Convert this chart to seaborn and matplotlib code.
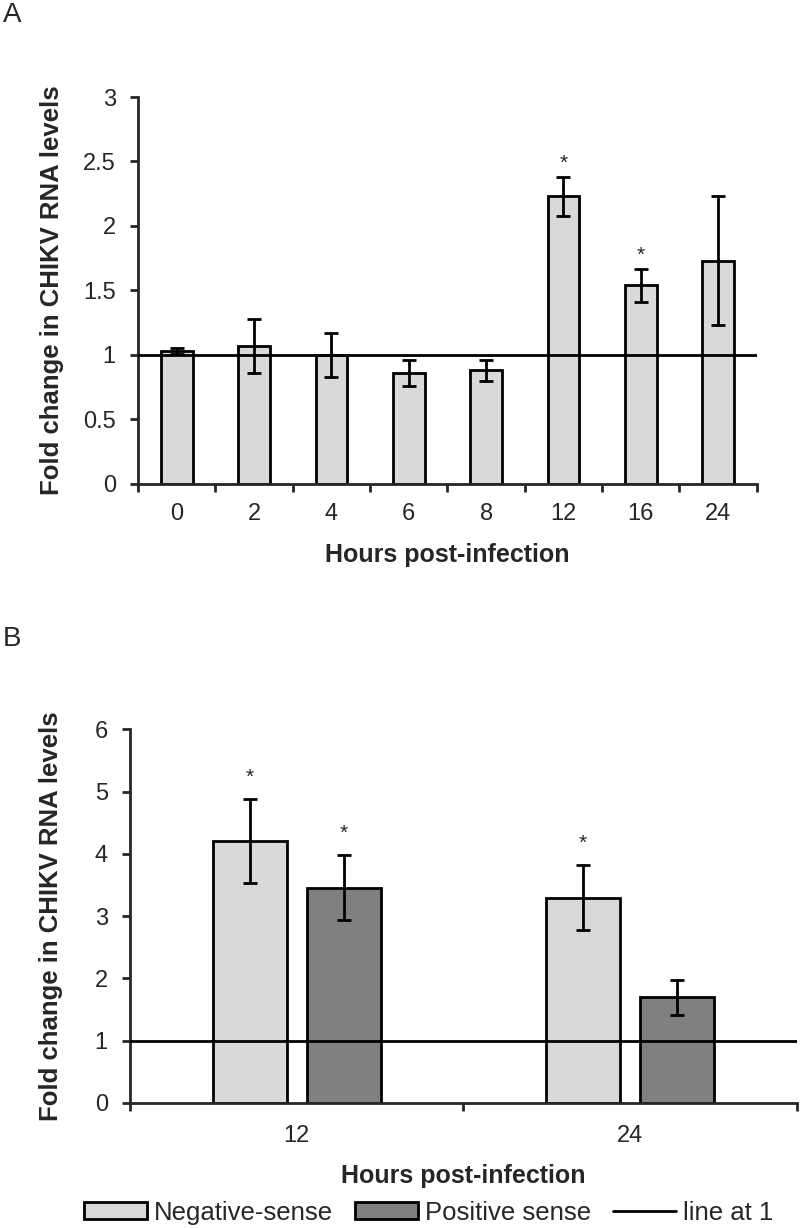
import matplotlib
matplotlib.use("Agg")
import matplotlib.pyplot as plt
import seaborn as sns
import pandas as pd
import numpy as np
from matplotlib.patches import Patch
from matplotlib.lines import Line2D

# ---- data ----
hours_a = ["0", "2", "4", "6", "8", "12", "16", "24"]
fold_a = [1.03, 1.07, 1.00, 0.86, 0.88, 2.23, 1.54, 1.73]
err_a = [0.02, 0.21, 0.17, 0.10, 0.08, 0.15, 0.13, 0.50]
sig_a = [False, False, False, False, False, True, True, False]

hours_b = ["12", "24"]
series_b = ["Negative-sense", "Positive sense"]
fold_neg = [4.21, 3.30]
fold_pos = [3.46, 1.70]
err_neg = [0.67, 0.52]
err_pos = [0.52, 0.28]
sig_neg = [True, True]
sig_pos = [True, False]

light = "#d9d9d9"
dark = "#808080"

sns.set_style("ticks")
plt.rcParams["font.family"] = ["Liberation Sans", "DejaVu Sans"]

fig = plt.figure(figsize=(8, 12.28), dpi=100)
axA = fig.add_axes([0.1725, 0.606, 0.7735, 0.315])
axB = fig.add_axes([0.1625, 0.1018, 0.8335, 0.3042])

LW = 2.0
TICKFS = 17

def style_axis(ax, ymax, step, xpad):
    for s in ["top", "right"]:
        ax.spines[s].set_visible(False)
    ax.spines["left"].set_linewidth(LW)
    ax.spines["bottom"].set_linewidth(LW)
    ax.set_ylim(0, ymax)
    yt = np.arange(0, ymax + 1e-9, step)
    ax.set_yticks(yt)
    ax.set_yticklabels([f"{v:g}" for v in yt])
    ax.tick_params(axis="y", direction="out", length=6, width=LW, labelsize=TICKFS, pad=10)
    ax.tick_params(axis="x", which="major", length=0, labelsize=TICKFS, pad=xpad)
    ax.tick_params(axis="x", which="minor", direction="out", length=5.5, width=LW)

# ---- Panel A ----
dfA = pd.DataFrame({"hours": hours_a, "fold": fold_a})
sns.barplot(data=dfA, x="hours", y="fold", order=hours_a, color=light,
            width=0.41, edgecolor="black", linewidth=LW, errorbar=None,
            saturation=1, ax=axA)
xs = [p.get_x() + p.get_width() / 2 for p in axA.patches]
axA.errorbar(xs, fold_a, yerr=err_a, fmt="none", ecolor="black",
             elinewidth=LW, capsize=4.7, capthick=LW, zorder=5)
for x, v, e, s in zip(xs, fold_a, err_a, sig_a):
    if s:
        axA.annotate("*", (x, v + e), xytext=(0, 3), textcoords="offset points",
                     ha="center", va="bottom", fontsize=15)
axA.axhline(1, color="black", lw=LW, zorder=6)
axA.set_xlim(-0.5, len(hours_a) - 0.5)
style_axis(axA, 3, 0.5, xpad=14)
axA.set_xticks(np.arange(-0.5, len(hours_a), 1.0), minor=True)
axA.set_ylabel("Fold change in CHIKV RNA levels", fontsize=18.5, fontweight="bold", labelpad=14)
axA.set_xlabel("Hours post-infection", fontsize=18, fontweight="bold", labelpad=13)

# ---- Panel B ----
dfB = pd.DataFrame({
    "hours": hours_b * 2,
    "series": [series_b[0]] * 2 + [series_b[1]] * 2,
    "fold": fold_neg + fold_pos,
})
sns.barplot(data=dfB, x="hours", y="fold", hue="series", order=hours_b,
            hue_order=series_b, palette=[light, dark], width=0.564, gap=0.21,
            edgecolor="black", linewidth=LW, errorbar=None, saturation=1,
            legend=False, ax=axB)
patches = sorted(axB.patches, key=lambda p: p.get_x())
xb = [p.get_x() + p.get_width() / 2 for p in patches]
# order by x: neg12, pos12, neg24, pos24
vals_b = [fold_neg[0], fold_pos[0], fold_neg[1], fold_pos[1]]
errs_b = [err_neg[0], err_pos[0], err_neg[1], err_pos[1]]
sigs_b = [sig_neg[0], sig_pos[0], sig_neg[1], sig_pos[1]]
axB.errorbar(xb, vals_b, yerr=errs_b, fmt="none", ecolor="black",
             elinewidth=LW, capsize=5, capthick=LW, zorder=5)
for x, v, e, s in zip(xb, vals_b, errs_b, sigs_b):
    if s:
        axB.annotate("*", (x, v + e), xytext=(0, 9), textcoords="offset points",
                     ha="center", va="bottom", fontsize=15)
axB.axhline(1, color="black", lw=LW, zorder=6)
axB.set_xlim(-0.5, len(hours_b) - 0.5)
style_axis(axB, 6, 1, xpad=16)
axB.set_xticks(np.arange(-0.5, len(hours_b), 1.0), minor=True)
axB.set_ylabel("Fold change in CHIKV RNA levels", fontsize=18.5, fontweight="bold", labelpad=23)
axB.set_xlabel("Hours post-infection", fontsize=18, fontweight="bold", labelpad=12)

handles = [Patch(facecolor=light, edgecolor="black", linewidth=LW, label=series_b[0]),
           Patch(facecolor=dark, edgecolor="black", linewidth=LW, label=series_b[1]),
           Line2D([0], [0], color="black", lw=LW, label="line at 1")]
fig.legend(handles=handles, loc="center", bbox_to_anchor=(0.5356, 0.0125), ncol=3,
           frameon=False, prop={"size": 18.5}, handlelength=2.45,
           handleheight=0.6, handletextpad=0.28, columnspacing=0.85,
           borderpad=0.1)

fig.text(0.004, 0.9985, "A", fontsize=20, va="top", ha="left")
fig.text(0.004, 0.4905, "B", fontsize=20, va="top", ha="left")

fig.savefig("out.png", dpi=100)
